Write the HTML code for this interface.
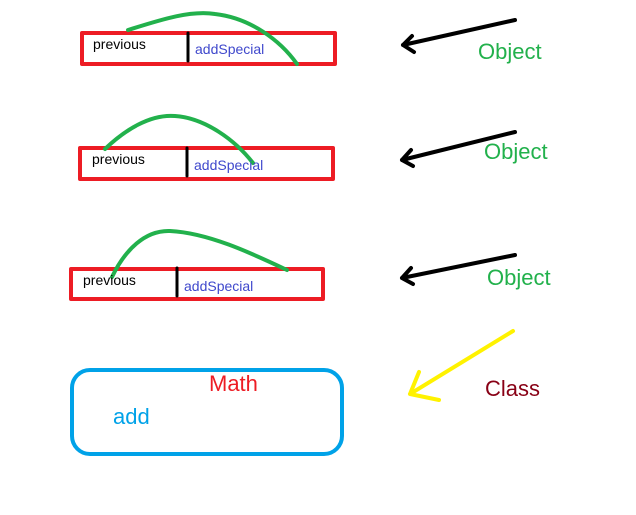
<!DOCTYPE html>
<html><head><meta charset="utf-8"><style>
html,body{margin:0;padding:0;background:#fff;width:636px;height:515px;overflow:hidden}
svg{display:block}
text{font-family:"Liberation Sans",sans-serif}
</style></head><body>
<svg width="636" height="515" viewBox="0 0 636 515" xmlns="http://www.w3.org/2000/svg">
<g fill="none" stroke-linecap="round" stroke-linejoin="round">
<!-- box 1 -->
<rect x="82" y="33" width="253" height="31" stroke="#ed1c24" stroke-width="4"/>
<line x1="188" y1="33" x2="188" y2="61" stroke="#000" stroke-width="3"/>
<path d="M128 30 C160 20 190 10 215 14 C250 18 280 40 297 64" stroke="#22b14c" stroke-width="4"/>
<!-- box 2 -->
<rect x="80" y="148" width="253" height="31" stroke="#ed1c24" stroke-width="4"/>
<line x1="187" y1="148" x2="187" y2="176" stroke="#000" stroke-width="3"/>
<path d="M105 149 C125 130 150 114 175 116 C205 118 235 140 253 163" stroke="#22b14c" stroke-width="4"/>
<!-- box 3 -->
<rect x="71" y="269" width="252" height="30" stroke="#ed1c24" stroke-width="4"/>
<line x1="177" y1="268" x2="177" y2="296" stroke="#000" stroke-width="3"/>
<path d="M112 277 C125 250 145 230 170 231 C210 233 255 255 287 270" stroke="#22b14c" stroke-width="4"/>
<!-- math box -->
<rect x="72" y="370" width="270" height="84" rx="18" ry="18" stroke="#00a2e8" stroke-width="4"/>
<!-- black arrows -->
<path d="M515 20 L403 45 M412 36 L403 45 L414 52" stroke="#000" stroke-width="4"/>
<path d="M515 132 L402 160 M411 150 L402 160 L413 166" stroke="#000" stroke-width="4"/>
<path d="M515 255 L402 278 M411 268 L402 278 L413 284" stroke="#000" stroke-width="4"/>
<!-- yellow arrow -->
<path d="M513 331 L410 394 M419 372 L410 394 L439 400" stroke="#fff200" stroke-width="4"/>
</g>
<g font-size="14">
<text x="93" y="49" fill="#000">previous</text>
<text x="195" y="54" fill="#3f48cc">addSpecial</text>
<text x="92" y="164" fill="#000">previous</text>
<text x="194" y="170" fill="#3f48cc">addSpecial</text>
<text x="83" y="285" fill="#000">previous</text>
<text x="184" y="291" fill="#3f48cc">addSpecial</text>
</g>
<g font-size="22">
<text x="478" y="59" fill="#22b14c">Object</text>
<text x="484" y="159" fill="#22b14c">Object</text>
<text x="487" y="285" fill="#22b14c">Object</text>
<text x="485" y="396" fill="#880015">Class</text>
<text x="209" y="391" fill="#ed1c24">Math</text>
<text x="113" y="424" fill="#00a2e8">add</text>
</g>
</svg>
</body></html>
